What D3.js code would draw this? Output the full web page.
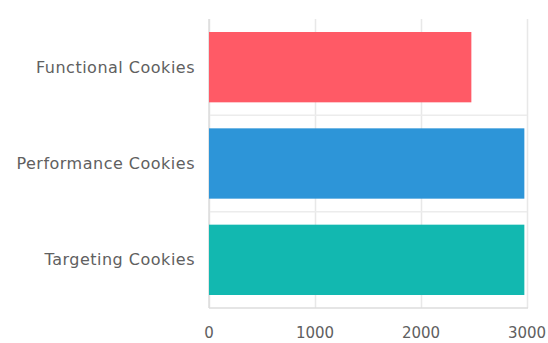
<!DOCTYPE html>
<html>
<head>
<meta charset="utf-8">
<script src="https://cdn.jsdelivr.net/npm/d3@7"></script>
<style>
  html, body { margin: 0; padding: 0; background: #fff; }
  svg { display: block; }
  text { font-family: "DejaVu Sans", Verdana, sans-serif; fill: #606060; }
</style>
</head>
<body>
<svg id="chart" width="548" height="343"></svg>
<script>
// Cookie categories and counts
const categories = ["Functional Cookies", "Performance Cookies", "Targeting Cookies"];
const counts = [2475, 2975, 2975];
const barColors = ["#ff5a66", "#2d95d8", "#12b8b0"];
const xTicks = [0, 1000, 2000, 3000];

const svg = d3.select("#chart");
const plotLeft = 209, plotRight = 527, plotTop = 19, plotBottom = 308;

const x = d3.scaleLinear().domain([0, 3000]).range([plotLeft, plotRight]);
const y = d3.scaleBand().domain(categories).range([plotTop, plotBottom])
  .paddingInner(0.27).paddingOuter(0.135);

const grid = svg.append("g");
// vertical grid lines at each x tick
grid.selectAll("line.v").data(xTicks).join("line")
  .attr("x1", d => x(d) + 0.5).attr("x2", d => x(d) + 0.5)
  .attr("y1", plotTop).attr("y2", plotBottom)
  .attr("stroke", "#e8e8e8").attr("stroke-width", 1.5);
// horizontal separators between categories
const seps = categories.slice(1).map(c => y(c) - y.step() * y.paddingInner() / 2);
grid.selectAll("line.h").data(seps).join("line")
  .attr("x1", plotLeft).attr("x2", plotRight)
  .attr("y1", d => d).attr("y2", d => d)
  .attr("stroke", "#ececec").attr("stroke-width", 1.5);
// axis lines
grid.append("line").attr("x1", plotLeft).attr("x2", plotRight + 1)
  .attr("y1", plotBottom).attr("y2", plotBottom)
  .attr("stroke", "#dcdcdc").attr("stroke-width", 1.5);
grid.append("line").attr("x1", plotLeft).attr("x2", plotLeft)
  .attr("y1", plotTop).attr("y2", plotBottom)
  .attr("stroke", "#dcdcdc").attr("stroke-width", 1.5);

// bars
svg.append("g").selectAll("rect").data(categories).join("rect")
  .attr("x", x(0))
  .attr("y", d => y(d))
  .attr("width", (d, i) => x(counts[i]) - x(0))
  .attr("height", y.bandwidth())
  .attr("fill", (d, i) => barColors[i]);

// category labels
svg.append("g").selectAll("text").data(categories).join("text")
  .attr("x", 195)
  .attr("y", d => y(d) + y.bandwidth() / 2)
  .attr("text-anchor", "end")
  .attr("dominant-baseline", "central")
  .style("font-size", "16px")
  .style("letter-spacing", "0.5px")
  .text(d => d);

// x tick labels
svg.append("g").selectAll("text").data(xTicks).join("text")
  .attr("x", d => x(d))
  .attr("y", 333)
  .attr("text-anchor", "middle")
  .attr("dominant-baseline", "central")
  .style("font-size", "15px")
  .text(d => d);
</script>
</body>
</html>
